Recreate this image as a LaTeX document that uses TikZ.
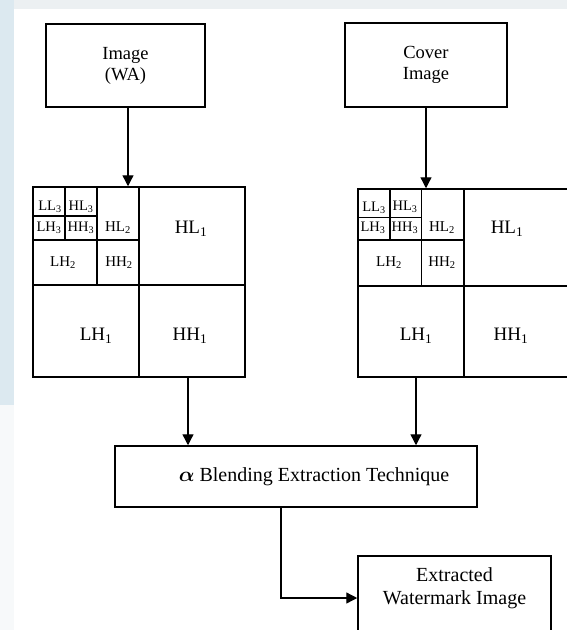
\documentclass[tikz,border=0pt]{standalone}
\usepackage{amsmath}
\usepackage{fontspec}
\setmainfont{Liberation Serif}
\usetikzlibrary{arrows.meta}
\definecolor{pageblue}{RGB}{220,233,240}
\definecolor{pagegray}{RGB}{236,240,242}
\tikzset{
  box/.style={draw, line width=1.5pt, align=center, inner sep=0pt,
    font=\fontsize{18.5}{21}\selectfont},
  band/.style={font=\fontsize{19}{21}\selectfont, inner sep=0pt},
  subband/.style={font=\fontsize{15}{17}\selectfont, inner sep=0pt},
  tinyband/.style={font=\fontsize{14.5}{16}\selectfont, inner sep=0pt},
  gridline/.style={line width=1.5pt},
  thinline/.style={line width=1pt},
  arr/.style={line width=1.3pt, -{Triangle[length=11pt,width=11pt]}}
}
\begin{document}
\begin{tikzpicture}[x=1pt,y=-1pt]
  \useasboundingbox (0,0) rectangle (567,630);
  % page background
  \fill[pagegray] (0,0) rectangle (567,9);
  \fill[pageblue] (0,0) rectangle (14,405);
  \fill[pagegray!40] (0,405) rectangle (14,630);

  % inputs
  \node[box, minimum width=159pt, minimum height=83pt] (wa) at (125.5,65.5) {Image\\(WA)};
  \node[box, minimum width=162pt, minimum height=84pt] (cover) at (426,65) {Cover\\Image};

  % decomposed watermark
  \node[draw, gridline, minimum width=212pt, minimum height=190pt, inner sep=0pt] (gridA) at (139,282) {};
  \draw[gridline] (139,187) -- (139,377);
  \draw[gridline] (33,285) -- (245,285);
  \draw[gridline] (97,187) -- (97,285);
  \draw[gridline] (33,240) -- (139,240);
  \draw[gridline] (65,187) -- (65,240);
  \draw[gridline] (33,216) -- (97,216);
  \node[tinyband] (LLa3) at (50,207) {LL\textsubscript{3}};
  \node[tinyband] (HLa3) at (81,207) {HL\textsubscript{3}};
  \node[tinyband] (LHa3) at (49,228) {LH\textsubscript{3}};
  \node[tinyband] (HHa3) at (81,228) {HH\textsubscript{3}};
  \node[subband] (HLa2) at (118,228) {HL\textsubscript{2}};
  \node[subband] (LHa2) at (63,263) {LH\textsubscript{2}};
  \node[subband] (HHa2) at (119,263) {HH\textsubscript{2}};
  \node[band] (HLa1) at (191,229) {HL\textsubscript{1}};
  \node[band] (LHa1) at (96,336) {LH\textsubscript{1}};
  \node[band] (HHa1) at (190,336) {HH\textsubscript{1}};

  % decomposed cover
  \node[draw, gridline, minimum width=212pt, minimum height=188pt, inner sep=0pt] (gridB) at (464,283) {};
  \draw[gridline] (464,189) -- (464,377);
  \draw[gridline] (358,286) -- (570,286);
  \draw[thinline] (421,189) -- (421,286);
  \draw[gridline] (358,240) -- (464,240);
  \draw[gridline] (390,189) -- (390,240);
  \draw[thinline] (358,217) -- (421,217);
  \node[tinyband] (LLb3) at (374,208) {LL\textsubscript{3}};
  \node[tinyband] (HLb3) at (405,207) {HL\textsubscript{3}};
  \node[tinyband] (LHb3) at (373,228) {LH\textsubscript{3}};
  \node[tinyband] (HHb3) at (405,228) {HH\textsubscript{3}};
  \node[subband] (HLb2) at (442,228) {HL\textsubscript{2}};
  \node[subband] (LHb2) at (389,263) {LH\textsubscript{2}};
  \node[subband] (HHb2) at (442,263) {HH\textsubscript{2}};
  \node[band] (HLb1) at (507,229) {HL\textsubscript{1}};
  \node[band] (LHb1) at (416,336) {LH\textsubscript{1}};
  \node[band] (HHb1) at (511,336) {HH\textsubscript{1}};

  % extraction
  \node[box, font=\fontsize{20}{23}\selectfont, minimum width=362pt, minimum height=61pt] (blend) at (296,476.5)
    {\hspace*{36pt}$\boldsymbol{\alpha}$ Blending Extraction Technique};
  \node[box, minimum width=193pt, minimum height=84pt,
    label={[anchor=north, yshift=-12pt, align=center, inner sep=0pt,
      font=\fontsize{20}{23}\selectfont]north:Extracted\\Watermark Image}] (ext) at (454.5,598) {};
  \coordinate (turn) at (281,596);

  % connectors
  \draw[arr] (wa.south -| 128,0) -- (gridA.north -| 128,0);
  \draw[arr] (cover.south) -- (gridB.north -| cover.south);
  \draw[arr] (gridA.south -| 188,0) -- (blend.north -| 188,0);
  \draw[arr] (gridB.south -| LHb1) -- (blend.north -| LHb1);
  \draw[arr] (blend.south -| turn) |- (ext.west);
\end{tikzpicture}
\end{document}
